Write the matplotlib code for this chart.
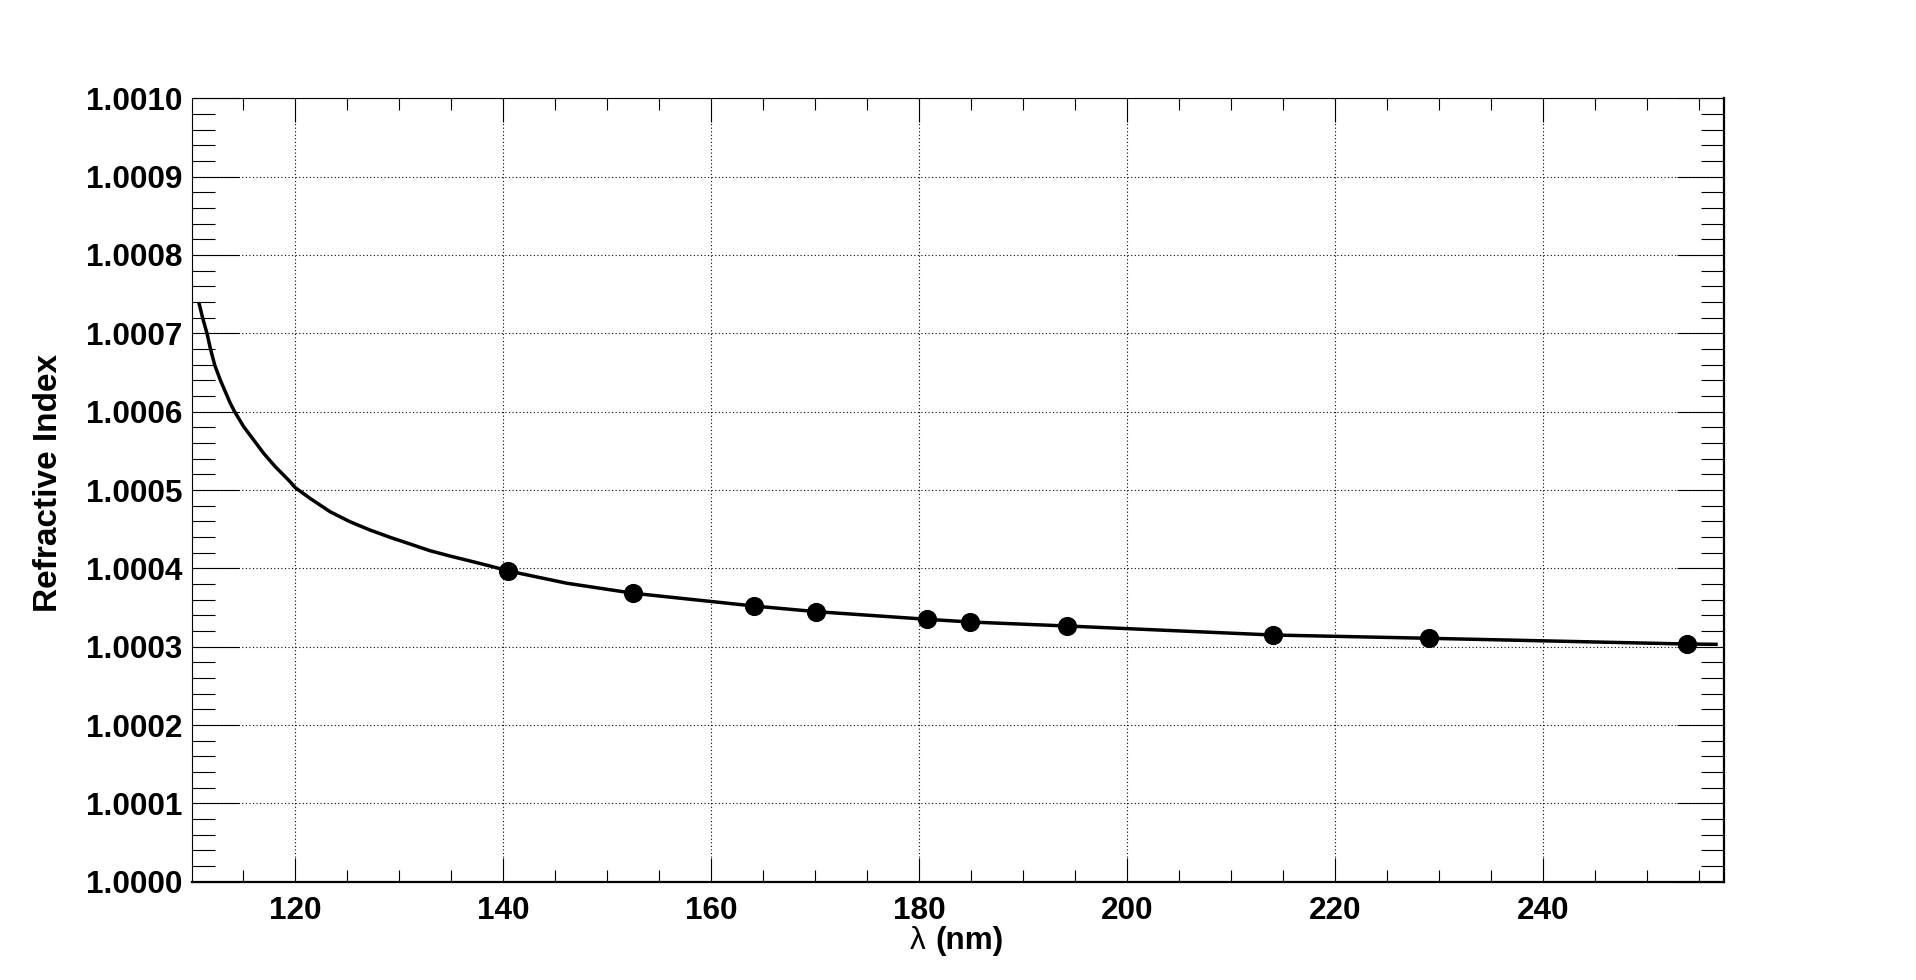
import matplotlib
matplotlib.use("Agg")
import matplotlib.pyplot as plt
from matplotlib.ticker import MultipleLocator, FormatStrFormatter

# ---- data ----
point_wavelength = [140.5, 152.5, 164.1, 170.1, 180.7, 184.9, 194.2, 214.0, 229.0, 253.8]
point_index = [1.0003966, 1.0003682, 1.0003519, 1.0003447, 1.0003350, 1.0003315,
               1.0003264, 1.0003149, 1.0003107, 1.0003034]

curve_wavelength = [110.77, 111.10, 111.51, 111.83, 112.25, 112.79, 113.27, 113.75,
                    114.17, 115.04, 116.0, 116.96, 118.08, 119.4, 120.0, 121.41,
                    123.34, 125.26, 127.18, 129.11, 131.03, 132.95, 134.88, 136.80,
                    138.72, 140.5, 146.1, 152.5, 164.1, 170.1, 180.7, 184.9, 194.2,
                    214.0, 229.0, 253.8, 256.6]
curve_index = [1.0007370, 1.0007192, 1.0007000, 1.0006809, 1.0006596, 1.0006404,
               1.0006255, 1.0006107, 1.0006000, 1.0005808, 1.0005638, 1.0005468,
               1.0005297, 1.0005120, 1.0005030, 1.0004894, 1.0004723, 1.0004595,
               1.0004489, 1.0004396, 1.0004311, 1.0004225, 1.0004157, 1.0004094,
               1.0004030, 1.0003966, 1.0003810, 1.0003682, 1.0003519, 1.0003447,
               1.0003350, 1.0003315, 1.0003264, 1.0003149, 1.0003107, 1.0003034,
               1.0003030]

x_ticks = [120, 140, 160, 180, 200, 220, 240]
x_label = "(nm)"
y_label = "Refractive Index"

W, H = 1916, 980
fig = plt.figure(figsize=(W / 100, H / 100), dpi=100)
ax = fig.add_axes([191.7 / W, 1 - 881.7 / H, (1724.3 - 191.7) / W, (881.7 - 98.3) / H])

FONT = "Liberation Sans"
FS = 22.7

ax.plot(curve_wavelength, curve_index, color="black", lw=2.5, zorder=3,
        solid_joinstyle="round")
ax.plot(point_wavelength, point_index, "o", color="black", ms=12.8, zorder=4)

ax.set_xlim(110.04, 257.40)
ax.set_ylim(1.0000, 1.0010)

ax.set_xticks(x_ticks)
ax.xaxis.set_minor_locator(MultipleLocator(5))
ax.yaxis.set_major_locator(MultipleLocator(0.0001))
ax.yaxis.set_minor_locator(MultipleLocator(0.00002))
ax.yaxis.set_major_formatter(FormatStrFormatter("%.4f"))

ax.tick_params(axis="x", which="major", direction="in", length=17.3, width=0.8,
               top=True, bottom=True, pad=10, labelsize=FS)
ax.tick_params(axis="x", which="minor", direction="in", length=8.6, width=0.8,
               top=True, bottom=True)
ax.tick_params(axis="y", which="major", direction="in", length=33.8, width=0.8,
               left=True, right=True, pad=6.5, labelsize=FS)
ax.tick_params(axis="y", which="minor", direction="in", length=16.6, width=0.8,
               left=True, right=True)
for lab in ax.get_xticklabels() + ax.get_yticklabels():
    lab.set_fontfamily(FONT)
    lab.set_fontweight("bold")

ax.grid(True, which="major", color="black", linestyle=(0, (1, 2.2)), lw=0.8)
ax.set_axisbelow(True)

for side, lw in (("left", 0.8), ("top", 0.8), ("bottom", 1.6), ("right", 1.6)):
    ax.spines[side].set_linewidth(lw)

# axis titles
fig.text(49 / W, 1 - 482.5 / H, y_label, rotation=90, ha="center", va="center",
         fontsize=24, fontweight="bold", fontfamily=FONT)
fig.text(926 / W, 1 - 948.5 / H, "λ", ha="right", va="baseline",
         fontsize=FS, fontfamily=FONT)
fig.text(935 / W, 1 - 948.5 / H, x_label, ha="left", va="baseline",
         fontsize=FS, fontweight="bold", fontfamily=FONT)

fig.savefig("out.png", dpi=100, facecolor="white")
